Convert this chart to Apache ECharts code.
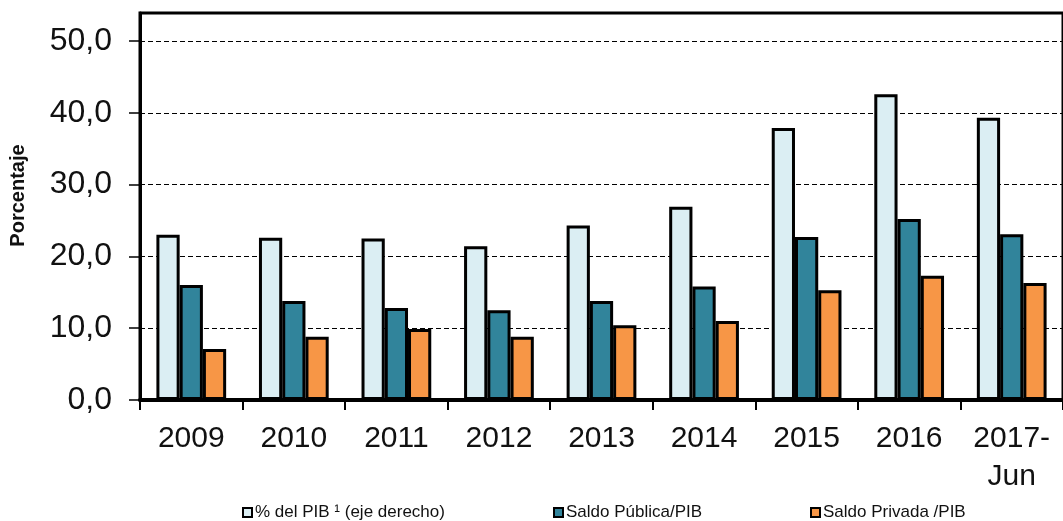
<!DOCTYPE html>
<html>
<head>
<meta charset="utf-8">
<script src="https://cdn.jsdelivr.net/npm/echarts@6/dist/echarts.min.js"></script>
<style>html,body{margin:0;padding:0;background:#fff}#c{width:1063px;height:521px}</style>
</head>
<body>
<div id="c"></div>
<script>
const categories = ['2009','2010','2011','2012','2013','2014','2015','2016','2017-\nJun'];
const seriesNames = ['% del PIB ¹ (eje derecho)', 'Saldo Pública/PIB', 'Saldo Privada /PIB'];
const pibTotal = [23.0, 22.6, 22.5, 21.4, 24.3, 26.9, 37.9, 42.6, 39.3];
const saldoPublica = [16.0, 13.8, 12.8, 12.5, 13.8, 15.8, 22.7, 25.2, 23.1];
const saldoPrivada = [7.1, 8.8, 9.9, 8.8, 10.4, 11.0, 15.3, 17.3, 16.3];
const yTicks = [0, 10, 20, 30, 40, 50];

const colors = ['#DBEEF3', '#31849B', '#F79646'];
const FONT = 'Liberation Sans, Arial, sans-serif';

const chart = echarts.init(document.getElementById('c'), null, {renderer: 'canvas'});
function mkSeries(name, data, color) {
  return {
    name: name, type: 'bar', data: data,
    barGap: '0%', barCategoryGap: '32%',
    itemStyle: {color: color, borderColor: '#000', borderWidth: 3},
    emphasis: {disabled: true}, animation: false
  };
}
const legendPos = [237, 548, 805];
chart.setOption({
  animation: false,
  textStyle: {fontFamily: FONT},
  grid: {left: 139, top: 13, right: -3, bottom: 121, show: true, borderColor: '#000', borderWidth: 3, backgroundColor: 'transparent'},
  legend: seriesNames.map((n, i) => ({
    data: [n], left: legendPos[i], top: 499, icon: 'rect', itemWidth: 9, itemHeight: 9, itemGap: 3,
    itemStyle: {borderColor: '#000', borderWidth: 2},
    textStyle: {fontSize: 17, color: '#111', fontFamily: FONT, padding: [0,0,0,-2]},
    selectedMode: false
  })),
  xAxis: {
    type: 'category', data: categories,
    axisLine: {lineStyle: {color: '#000', width: 4}},
    axisTick: {show: true, length: 10, lineStyle: {color: '#000', width: 2}},
    axisLabel: {fontSize: 30, color: '#111', margin: 20, lineHeight: 38, fontFamily: FONT}
  },
  yAxis: {
    type: 'value', min: 0, max: 53.9, interval: 10,
    name: 'Porcentaje', nameLocation: 'middle', nameGap: 112, nameRotate: 90,
    nameTextStyle: {fontSize: 20, fontWeight: 'bold', color: '#111', fontFamily: FONT, padding: [0, 0, 0, 22]},
    axisLine: {show: true, lineStyle: {color: '#000', width: 3}},
    axisTick: {show: true, length: 11, lineStyle: {color: '#000', width: 1.5}, customValues: yTicks},
    axisLabel: {fontSize: 32, color: '#111', margin: 28, fontFamily: FONT, customValues: yTicks,
      formatter: v => v.toFixed(1).replace('.', ',')},
    splitLine: {show: true, lineStyle: {color: '#000', width: 1, type: [5, 3]}}
  },
  series: [
    mkSeries(seriesNames[0], pibTotal, colors[0]),
    mkSeries(seriesNames[1], saldoPublica, colors[1]),
    mkSeries(seriesNames[2], saldoPrivada, colors[2])
  ]
});
</script>
</body>
</html>
